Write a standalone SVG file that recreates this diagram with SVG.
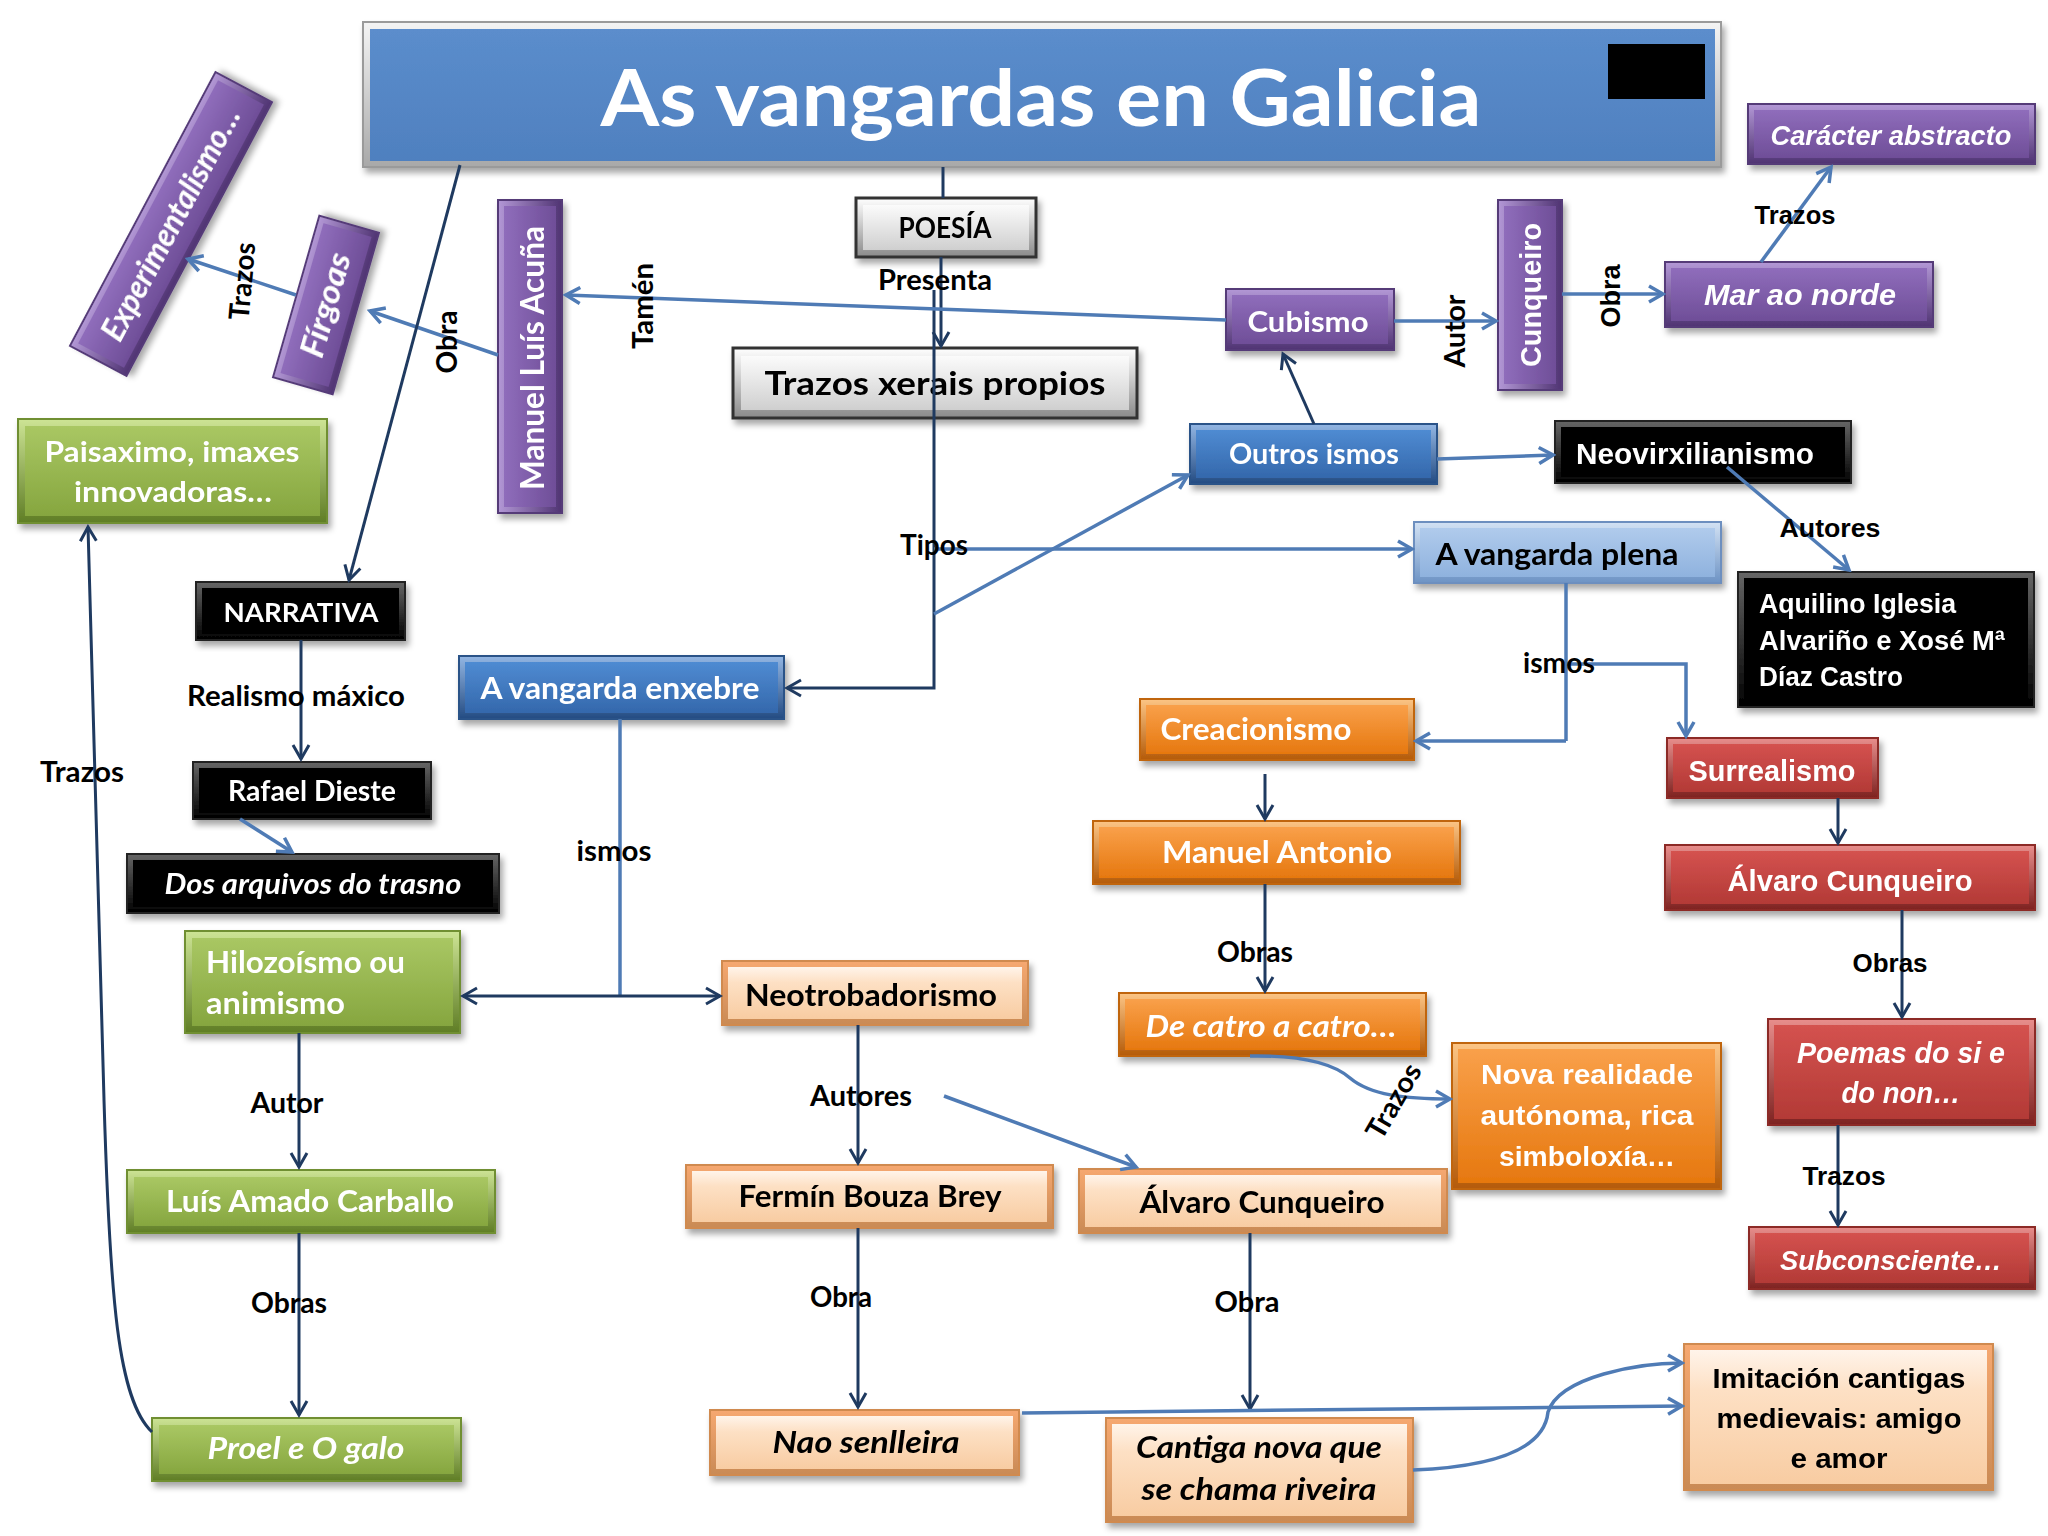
<svg xmlns="http://www.w3.org/2000/svg" width="2048" height="1536" viewBox="0 0 2048 1536">
<style>
.t{font-family:Lato,"Liberation Sans",sans-serif;font-weight:700}
.h{font-family:"Liberation Sans",Arial,sans-serif;font-weight:700}
.w{fill:#fff}.k{fill:#000}.i{font-style:italic}
.l{font-size:28px}
.m{text-anchor:middle}
.c1{fill:none;stroke:#4F7BB5;stroke-width:3.5;marker-end:url(#a1)}
.c2{fill:none;stroke:#1F3A60;stroke-width:3;marker-end:url(#a2)}
.n1{fill:none;stroke:#4F7BB5;stroke-width:3.5}
.n2{fill:none;stroke:#1F3A60;stroke-width:3}
.po{fill:url(#gPo);stroke:#553a78;stroke-width:2}.pi{fill:url(#gPi)}
.pov{fill:url(#gPoV);stroke:#553a78;stroke-width:2}.piv{fill:url(#gPiV)}
.go{fill:url(#gGo);stroke:#6f8f33;stroke-width:2}.gi{fill:url(#gGi)}
.oo{fill:url(#gOo);stroke:#c06510;stroke-width:2}.oi{fill:url(#gOi)}
.ro{fill:url(#gRo);stroke:#8c2a28;stroke-width:2}.ri{fill:url(#gRi)}
.fo{fill:url(#gFo);stroke:#d08a50;stroke-width:2}.fi{fill:url(#gFi)}
.ko{fill:url(#gKo);stroke:#222;stroke-width:2}.ki{fill:#000}
.bo{fill:url(#gBo);stroke:#2c5288;stroke-width:2}.bi{fill:url(#gBi)}
.lo{fill:url(#gLo);stroke:#6d8fbf;stroke-width:2}.li{fill:url(#gLi)}
.so{fill:url(#gSo);stroke:#333;stroke-width:3}.si{fill:url(#gSi)}
</style>
<defs>
<filter id="sh" x="-10%" y="-10%" width="125%" height="130%"><feDropShadow dx="3" dy="5" stdDeviation="3" flood-opacity="0.35"/></filter>
<linearGradient id="gPo" x1="0" y1="0" x2="0" y2="1"><stop offset="0" stop-color="#b398d6"/><stop offset="1" stop-color="#4f3372"/></linearGradient>
<linearGradient id="gPi" x1="0" y1="0" x2="0" y2="1"><stop offset="0" stop-color="#8f6dbb"/><stop offset="1" stop-color="#6f4e98"/></linearGradient>
<linearGradient id="gPoV" x1="0" y1="0" x2="1" y2="0"><stop offset="0" stop-color="#b398d6"/><stop offset="1" stop-color="#4f3372"/></linearGradient>
<linearGradient id="gPiV" x1="0" y1="0" x2="1" y2="0"><stop offset="0" stop-color="#8f6dbb"/><stop offset="1" stop-color="#6f4e98"/></linearGradient>
<linearGradient id="gGo" x1="0" y1="0" x2="0" y2="1"><stop offset="0" stop-color="#cde495"/><stop offset="1" stop-color="#5f7d25"/></linearGradient>
<linearGradient id="gGi" x1="0" y1="0" x2="0" y2="1"><stop offset="0" stop-color="#a9c763"/><stop offset="1" stop-color="#86a63f"/></linearGradient>
<linearGradient id="gOo" x1="0" y1="0" x2="0" y2="1"><stop offset="0" stop-color="#fcc585"/><stop offset="1" stop-color="#b45a08"/></linearGradient>
<linearGradient id="gOi" x1="0" y1="0" x2="0" y2="1"><stop offset="0" stop-color="#f9a04a"/><stop offset="1" stop-color="#e6780f"/></linearGradient>
<linearGradient id="gRo" x1="0" y1="0" x2="0" y2="1"><stop offset="0" stop-color="#e88e8c"/><stop offset="1" stop-color="#7d2220"/></linearGradient>
<linearGradient id="gRi" x1="0" y1="0" x2="0" y2="1"><stop offset="0" stop-color="#d4524f"/><stop offset="1" stop-color="#b33a36"/></linearGradient>
<linearGradient id="gFo" x1="0" y1="0" x2="0" y2="1"><stop offset="0" stop-color="#f6a870"/><stop offset="1" stop-color="#c98a55"/></linearGradient>
<linearGradient id="gFi" x1="0" y1="0" x2="0" y2="1"><stop offset="0" stop-color="#fff4ea"/><stop offset="0.3" stop-color="#fde0c4"/><stop offset="1" stop-color="#f8cca2"/></linearGradient>
<linearGradient id="gKo" x1="0" y1="0" x2="0" y2="1"><stop offset="0" stop-color="#666"/><stop offset="1" stop-color="#000"/></linearGradient>
<linearGradient id="gBo" x1="0" y1="0" x2="0" y2="1"><stop offset="0" stop-color="#93b6e3"/><stop offset="1" stop-color="#234b82"/></linearGradient>
<linearGradient id="gBi" x1="0" y1="0" x2="0" y2="1"><stop offset="0" stop-color="#4f8bd2"/><stop offset="1" stop-color="#3468ac"/></linearGradient>
<linearGradient id="gLo" x1="0" y1="0" x2="0" y2="1"><stop offset="0" stop-color="#d3e2f4"/><stop offset="1" stop-color="#6d93c4"/></linearGradient>
<linearGradient id="gLi" x1="0" y1="0" x2="0" y2="1"><stop offset="0" stop-color="#b0cbec"/><stop offset="1" stop-color="#8fb2de"/></linearGradient>
<linearGradient id="gSo" x1="0" y1="0" x2="0" y2="1"><stop offset="0" stop-color="#ffffff"/><stop offset="1" stop-color="#8a8a8a"/></linearGradient>
<linearGradient id="gSi" x1="0" y1="0" x2="0" y2="1"><stop offset="0" stop-color="#fbfbfb"/><stop offset="1" stop-color="#cfcfcf"/></linearGradient>
<linearGradient id="gT" x1="0" y1="0" x2="0" y2="1"><stop offset="0" stop-color="#f4f4f4"/><stop offset="1" stop-color="#a8a8a8"/></linearGradient>
<linearGradient id="gTb" x1="0" y1="0" x2="0" y2="1"><stop offset="0" stop-color="#5b8dcc"/><stop offset="1" stop-color="#4f80bf"/></linearGradient>
<marker id="a1" markerUnits="userSpaceOnUse" markerWidth="22" markerHeight="22" viewBox="0 0 22 22" refX="19" refY="11" orient="auto"><path d="M5,3 L19,11 L5,19" fill="none" stroke="#4F7BB5" stroke-width="3.5"/></marker>
<marker id="a2" markerUnits="userSpaceOnUse" markerWidth="22" markerHeight="22" viewBox="0 0 22 22" refX="19" refY="11" orient="auto"><path d="M5,3 L19,11 L5,19" fill="none" stroke="#1F3A60" stroke-width="3"/></marker>
</defs>
<rect width="2048" height="1536" fill="#fff"/>

<g id="n-title" filter="url(#sh)">
<rect x="363" y="22" width="1358" height="145" fill="url(#gT)" stroke="#9a9a9a" stroke-width="2"/>
<rect x="370" y="29" width="1345" height="132" fill="url(#gTb)"/>
<rect x="1608" y="44" width="97" height="55" fill="#000"/>
<text x="1041" y="126" class="t w m" font-size="78" textLength="881" lengthAdjust="spacingAndGlyphs">As vangardas en Galicia</text>
</g>

<g id="n-poesia" filter="url(#sh)"><rect x="856" y="198" width="180" height="59" class="so"/><rect x="863" y="205" width="166" height="45" class="si"/><text x="945" y="238" class="t k m" font-size="28" textLength="93" lengthAdjust="spacingAndGlyphs">POESÍA</text></g>
<g id="n-trazos" filter="url(#sh)"><rect x="733" y="348" width="404" height="70" class="so"/><rect x="741" y="356" width="388" height="54" class="si"/><text x="935" y="395" class="t k m" font-size="33" textLength="341" lengthAdjust="spacingAndGlyphs">Trazos xerais propios</text></g>
<g id="n-cubismo" filter="url(#sh)"><rect x="1226" y="289" width="168" height="61" class="po"/><rect x="1232" y="295" width="156" height="49" class="pi"/><text x="1308" y="332" class="t w m" font-size="29" textLength="121" lengthAdjust="spacingAndGlyphs">Cubismo</text></g>
<g id="n-outros" filter="url(#sh)"><rect x="1190" y="424" width="247" height="60" class="bo"/><rect x="1196" y="430" width="235" height="48" class="bi"/><text x="1314" y="464" class="t w m" font-size="29" textLength="170" lengthAdjust="spacingAndGlyphs">Outros ismos</text></g>
<g id="n-neovirx" filter="url(#sh)"><rect x="1555" y="421" width="296" height="62" class="ko"/><rect x="1561" y="427" width="284" height="50" class="ki"/><text x="1695" y="464" class="h w m" font-size="30" textLength="238" lengthAdjust="spacingAndGlyphs">Neovirxilianismo</text></g>
<g id="n-caracter" filter="url(#sh)"><rect x="1748" y="104" width="287" height="60" class="po"/><rect x="1754" y="110" width="275" height="48" class="pi"/><text x="1891" y="145" class="h w m i" font-size="28" textLength="241" lengthAdjust="spacingAndGlyphs">Carácter abstracto</text></g>
<g id="n-mar" filter="url(#sh)"><rect x="1665" y="262" width="268" height="65" class="po"/><rect x="1671" y="268" width="256" height="53" class="pi"/><text x="1800" y="305" class="h w m i" font-size="29" textLength="192" lengthAdjust="spacingAndGlyphs">Mar ao norde</text></g>
<g id="n-cunqueiro" filter="url(#sh)"><rect x="1498" y="200" width="64" height="190" class="pov"/><rect x="1504" y="206" width="52" height="178" class="piv"/><text transform="translate(1541,295) rotate(-90)" class="h w m" font-size="29" textLength="144" lengthAdjust="spacingAndGlyphs">Cunqueiro</text></g>
<g id="n-manuel" filter="url(#sh)"><rect x="498" y="200" width="64" height="313" class="pov"/><rect x="504" y="206" width="52" height="301" class="piv"/><text transform="translate(544,358) rotate(-90)" class="t w m" font-size="33" textLength="264" lengthAdjust="spacingAndGlyphs">Manuel Luís Acuña</text></g>
<g id="n-firgoas" filter="url(#sh)" transform="translate(326,305) rotate(-74)"><rect x="-84" y="-31" width="168" height="62" class="po"/><rect x="-78" y="-25" width="156" height="50" class="pi"/><text x="0" y="11" class="t w m i" font-size="32" textLength="107" lengthAdjust="spacingAndGlyphs">Fírgoas</text></g>
<g id="n-experimentalismo" filter="url(#sh)" transform="translate(171,224) rotate(-62)"><rect x="-155" y="-32" width="310" height="64" class="po"/><rect x="-149" y="-26" width="298" height="52" class="pi"/><text x="0" y="11" class="t w m i" font-size="32" textLength="259" lengthAdjust="spacingAndGlyphs">Experimentalismo…</text></g>
<g id="n-paisaximo" filter="url(#sh)"><rect x="18" y="419" width="309" height="104" class="go"/><rect x="25" y="426" width="295" height="90" class="gi"/><text x="172" y="462" class="t w m" font-size="29" textLength="255" lengthAdjust="spacingAndGlyphs">Paisaximo, imaxes</text><text x="173" y="502" class="t w m" font-size="29" textLength="198" lengthAdjust="spacingAndGlyphs">innovadoras…</text></g>
<g id="n-narrativa" filter="url(#sh)"><rect x="196" y="582" width="209" height="58" class="ko"/><rect x="202" y="588" width="197" height="46" class="ki"/><text x="301" y="622" class="t w m" font-size="26" textLength="155" lengthAdjust="spacingAndGlyphs">NARRATIVA</text></g>
<g id="n-rafael" filter="url(#sh)"><rect x="193" y="762" width="238" height="57" class="ko"/><rect x="199" y="768" width="226" height="45" class="ki"/><text x="312" y="801" class="t w m" font-size="28" textLength="168" lengthAdjust="spacingAndGlyphs">Rafael Dieste</text></g>
<g id="n-dos" filter="url(#sh)"><rect x="127" y="854" width="372" height="59" class="ko"/><rect x="133" y="860" width="360" height="47" class="ki"/><text x="313" y="894" class="t w m i" font-size="29" textLength="297" lengthAdjust="spacingAndGlyphs">Dos arquivos do trasno</text></g>
<g id="n-hilozoismo" filter="url(#sh)"><rect x="185" y="931" width="275" height="102" class="go"/><rect x="192" y="938" width="261" height="88" class="gi"/><text x="206" y="973" class="t w" font-size="30" textLength="199" lengthAdjust="spacingAndGlyphs">Hilozoísmo ou</text><text x="206" y="1014" class="t w" font-size="30" textLength="139" lengthAdjust="spacingAndGlyphs">animismo</text></g>
<g id="n-luis" filter="url(#sh)"><rect x="127" y="1170" width="368" height="63" class="go"/><rect x="134" y="1177" width="354" height="49" class="gi"/><text x="310" y="1212" class="t w m" font-size="30" textLength="288" lengthAdjust="spacingAndGlyphs">Luís Amado Carballo</text></g>
<g id="n-proel" filter="url(#sh)"><rect x="152" y="1418" width="309" height="63" class="go"/><rect x="159" y="1425" width="295" height="49" class="gi"/><text x="306" y="1459" class="t w m i" font-size="30" textLength="197" lengthAdjust="spacingAndGlyphs">Proel e O galo</text></g>
<g id="n-enxebre" filter="url(#sh)"><rect x="459" y="656" width="325" height="63" class="bo"/><rect x="465" y="662" width="313" height="51" class="bi"/><text x="620" y="699" class="t w m" font-size="30" textLength="279" lengthAdjust="spacingAndGlyphs">A vangarda enxebre</text></g>
<g id="n-neotrob" filter="url(#sh)"><rect x="722" y="961" width="306" height="64" class="fo"/><rect x="728" y="967" width="294" height="52" class="fi"/><text x="871" y="1006" class="t k m" font-size="30" textLength="252" lengthAdjust="spacingAndGlyphs">Neotrobadorismo</text></g>
<g id="n-fermin" filter="url(#sh)"><rect x="686" y="1165" width="367" height="63" class="fo"/><rect x="692" y="1171" width="355" height="51" class="fi"/><text x="870" y="1207" class="t k m" font-size="30" textLength="263" lengthAdjust="spacingAndGlyphs">Fermín Bouza Brey</text></g>
<g id="n-alvaro1" filter="url(#sh)"><rect x="1079" y="1169" width="368" height="64" class="fo"/><rect x="1085" y="1175" width="356" height="52" class="fi"/><text x="1262" y="1213" class="t k m" font-size="30" textLength="245" lengthAdjust="spacingAndGlyphs">Álvaro Cunqueiro</text></g>
<g id="n-nao" filter="url(#sh)"><rect x="710" y="1410" width="309" height="65" class="fo"/><rect x="716" y="1416" width="297" height="53" class="fi"/><text x="866" y="1453" class="t k m i" font-size="30" textLength="187" lengthAdjust="spacingAndGlyphs">Nao senlleira</text></g>
<g id="n-cantiga" filter="url(#sh)"><rect x="1106" y="1418" width="307" height="104" class="fo"/><rect x="1112" y="1424" width="295" height="92" class="fi"/><text x="1259" y="1458" class="t k m i" font-size="30" textLength="246" lengthAdjust="spacingAndGlyphs">Cantiga nova que</text><text x="1259" y="1500" class="t k m i" font-size="30" textLength="235" lengthAdjust="spacingAndGlyphs">se chama riveira</text></g>
<g id="n-creacionismo" filter="url(#sh)"><rect x="1140" y="699" width="274" height="61" class="oo"/><rect x="1146" y="705" width="262" height="49" class="oi"/><text x="1256" y="740" class="t w m" font-size="30" textLength="191" lengthAdjust="spacingAndGlyphs">Creacionismo</text></g>
<g id="n-manuelantonio" filter="url(#sh)"><rect x="1093" y="821" width="367" height="63" class="oo"/><rect x="1099" y="827" width="355" height="51" class="oi"/><text x="1277" y="863" class="t w m" font-size="30" textLength="230" lengthAdjust="spacingAndGlyphs">Manuel Antonio</text></g>
<g id="n-decatro" filter="url(#sh)"><rect x="1119" y="993" width="307" height="63" class="oo"/><rect x="1125" y="999" width="295" height="51" class="oi"/><text x="1271" y="1037" class="t w m i" font-size="30" textLength="251" lengthAdjust="spacingAndGlyphs">De catro a catro…</text></g>
<g id="n-nova" filter="url(#sh)"><rect x="1452" y="1043" width="269" height="146" class="oo"/><rect x="1458" y="1049" width="257" height="134" class="oi"/><text x="1587" y="1084" class="h w m" font-size="28" textLength="212" lengthAdjust="spacingAndGlyphs">Nova realidade</text><text x="1587" y="1125" class="h w m" font-size="28" textLength="213" lengthAdjust="spacingAndGlyphs">autónoma, rica</text><text x="1587" y="1166" class="h w m" font-size="28" textLength="176" lengthAdjust="spacingAndGlyphs">simboloxía…</text></g>
<g id="n-plena" filter="url(#sh)"><rect x="1414" y="522" width="307" height="61" class="lo"/><rect x="1420" y="528" width="295" height="49" class="li"/><text x="1557" y="565" class="t k m" font-size="30" textLength="243" lengthAdjust="spacingAndGlyphs">A vangarda plena</text></g>
<g id="n-aquilino" filter="url(#sh)"><rect x="1738" y="572" width="296" height="135" class="ko"/><rect x="1744" y="578" width="284" height="123" class="ki"/><text x="1759" y="613" class="h w" font-size="28" textLength="197" lengthAdjust="spacingAndGlyphs">Aquilino Iglesia</text><text x="1759" y="650" class="h w" font-size="28" textLength="246" lengthAdjust="spacingAndGlyphs">Alvariño e Xosé Mª</text><text x="1759" y="686" class="h w" font-size="28" textLength="144" lengthAdjust="spacingAndGlyphs">Díaz Castro</text></g>
<g id="n-surrealismo" filter="url(#sh)"><rect x="1667" y="738" width="211" height="60" class="ro"/><rect x="1673" y="744" width="199" height="48" class="ri"/><text x="1772" y="781" class="h w m" font-size="29" textLength="167" lengthAdjust="spacingAndGlyphs">Surrealismo</text></g>
<g id="n-alvaro2" filter="url(#sh)"><rect x="1665" y="845" width="370" height="65" class="ro"/><rect x="1671" y="851" width="358" height="53" class="ri"/><text x="1850" y="891" class="h w m" font-size="30" textLength="245" lengthAdjust="spacingAndGlyphs">Álvaro Cunqueiro</text></g>
<g id="n-poemas" filter="url(#sh)"><rect x="1768" y="1019" width="267" height="106" class="ro"/><rect x="1774" y="1025" width="255" height="94" class="ri"/><text x="1901" y="1063" class="h w m i" font-size="29" textLength="208" lengthAdjust="spacingAndGlyphs">Poemas do si e</text><text x="1901" y="1103" class="h w m i" font-size="29" textLength="119" lengthAdjust="spacingAndGlyphs">do non…</text></g>
<g id="n-subconsciente" filter="url(#sh)"><rect x="1749" y="1227" width="286" height="62" class="ro"/><rect x="1755" y="1233" width="274" height="50" class="ri"/><text x="1891" y="1270" class="h w m i" font-size="28" textLength="222" lengthAdjust="spacingAndGlyphs">Subconsciente…</text></g>
<g id="n-imitacion" filter="url(#sh)"><rect x="1684" y="1344" width="309" height="146" class="fo"/><rect x="1690" y="1350" width="297" height="134" class="fi"/><text x="1839" y="1388" class="h k m" font-size="28" textLength="253" lengthAdjust="spacingAndGlyphs">Imitación cantigas</text><text x="1839" y="1428" class="h k m" font-size="28" textLength="245" lengthAdjust="spacingAndGlyphs">medievais: amigo</text><text x="1839" y="1468" class="h k m" font-size="28" textLength="97" lengthAdjust="spacingAndGlyphs">e amor</text></g>

<g id="connectors">
<path class="n2" d="M943 167 V198"/>
<path class="c2" d="M941 257 V346"/>
<path class="c2" d="M934 290 V688 H787"/>
<path class="c1" d="M934 549 H1412"/>
<path class="c1" d="M934 614 L1188 475"/>
<path class="c2" d="M1314 424 L1283 354"/>
<path class="c1" d="M1437 459 L1553 455"/>
<path class="c1" d="M1394 321 H1496"/>
<path class="c1" d="M1562 294 H1663"/>
<path class="c1" d="M1761 262 L1831 167"/>
<path class="c1" d="M1727 467 L1849 570"/>
<path class="c1" d="M1226 320 L566 295"/>
<path class="c1" d="M498 355 L370 311"/>
<path class="c1" d="M296 295 L188 259"/>
<path class="c2" d="M460 165 L349 580"/>
<path class="c2" d="M301 640 V759"/>
<path class="c1" d="M240 819 L292 852"/>
<path class="n1" d="M620 719 V996"/>
<path class="c2" d="M620 996 H463"/>
<path class="c2" d="M620 996 H720"/>
<path class="c2" d="M299 1033 V1167"/>
<path class="c2" d="M299 1233 V1415"/>
<path class="c2" d="M152 1432 C118 1400,110 1300,104 1100 C100 900,92 700,88 527"/>
<path class="c2" d="M858 1025 V1163"/>
<path class="c1" d="M944 1096 L1136 1167"/>
<path class="c2" d="M858 1228 V1407"/>
<path class="c2" d="M1250 1233 V1409"/>
<path class="c1" d="M1022 1413 L1682 1406"/>
<path class="c1" d="M1413 1470 C1510 1466,1545 1442,1548 1412 C1560 1376,1640 1363,1682 1363"/>
<path class="n1" d="M1566 583 V741"/>
<path class="c1" d="M1566 741 H1416"/>
<path class="c1" d="M1566 664 H1686 V736"/>
<path class="c2" d="M1265 774 V819"/>
<path class="c2" d="M1265 884 V991"/>
<path class="c1" d="M1250 1056 C1305 1055,1335 1065,1350 1078 C1370 1095,1405 1099,1450 1099"/>
<path class="c2" d="M1838 798 V843"/>
<path class="c2" d="M1902 910 V1017"/>
<path class="c2" d="M1838 1125 V1225"/>
</g>

<g id="labels">
<text x="935" y="290" class="t k m l" textLength="114" lengthAdjust="spacingAndGlyphs">Presenta</text>
<text x="934" y="555" class="t k m l" textLength="68" lengthAdjust="spacingAndGlyphs">Tipos</text>
<text x="296" y="706" class="t k m l" textLength="218" lengthAdjust="spacingAndGlyphs">Realismo máxico</text>
<text x="82" y="782" class="t k m l" textLength="84" lengthAdjust="spacingAndGlyphs">Trazos</text>
<text x="614" y="861" class="t k m l" textLength="75" lengthAdjust="spacingAndGlyphs">ismos</text>
<text x="287" y="1113" class="t k m l" textLength="73" lengthAdjust="spacingAndGlyphs">Autor</text>
<text x="289" y="1313" class="t k m l" textLength="76" lengthAdjust="spacingAndGlyphs">Obras</text>
<text x="861" y="1106" class="t k m l" textLength="102" lengthAdjust="spacingAndGlyphs">Autores</text>
<text x="841" y="1307" class="t k m l" textLength="62" lengthAdjust="spacingAndGlyphs">Obra</text>
<text x="1247" y="1312" class="t k m l" textLength="65" lengthAdjust="spacingAndGlyphs">Obra</text>
<text x="1255" y="962" class="t k m l" textLength="76" lengthAdjust="spacingAndGlyphs">Obras</text>
<text x="1559" y="673" class="t k m l" textLength="72" lengthAdjust="spacingAndGlyphs">ismos</text>
<text x="1795" y="224" class="h k m" font-size="26" textLength="81" lengthAdjust="spacingAndGlyphs">Trazos</text>
<text x="1830" y="537" class="h k m" font-size="26" textLength="101" lengthAdjust="spacingAndGlyphs">Autores</text>
<text x="1890" y="972" class="h k m" font-size="26" textLength="75" lengthAdjust="spacingAndGlyphs">Obras</text>
<text x="1844" y="1185" class="h k m" font-size="26" textLength="83" lengthAdjust="spacingAndGlyphs">Trazos</text>
<text transform="translate(653,306) rotate(-90)" class="t k m l" textLength="86" lengthAdjust="spacingAndGlyphs">Tamén</text>
<text transform="translate(457,342) rotate(-90)" class="t k m l" textLength="63" lengthAdjust="spacingAndGlyphs">Obra</text>
<text transform="translate(1465,331) rotate(-90)" class="t k m l" textLength="73" lengthAdjust="spacingAndGlyphs">Autor</text>
<text transform="translate(1620,296) rotate(-90)" class="h k m" font-size="27" textLength="63" lengthAdjust="spacingAndGlyphs">Obra</text>
<text transform="translate(252,282) rotate(-85)" class="t k m l" textLength="78" lengthAdjust="spacingAndGlyphs">Trazos</text>
<text transform="translate(1402,1106) rotate(-60)" class="t k m l" textLength="82" lengthAdjust="spacingAndGlyphs">Trazos</text>
</g>
</svg>
